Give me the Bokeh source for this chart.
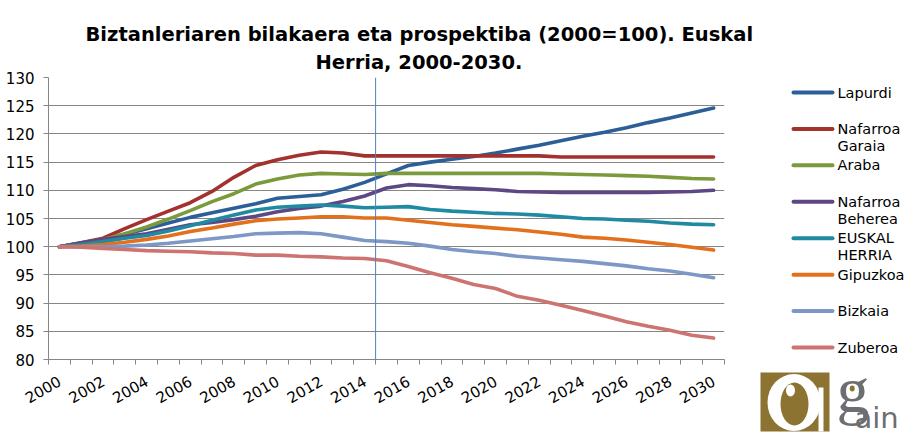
from bokeh.plotting import figure
from bokeh.models import Range1d, FixedTicker, Span, Title
from bokeh.layouts import row
from bokeh.embed import file_html
from bokeh.resources import INLINE
from bokeh.core.properties import value

# ---------------- data ----------------
years = list(range(2000, 2031))
tick_years = list(range(2000, 2031, 2))
y_ticks = [80, 85, 90, 95, 100, 105, 110, 115, 120, 125, 130]
projection_start = 2014.5

lapurdi = [100, 100.6, 101.2, 102.2, 103.2, 104.2, 105.2, 106.0, 106.8, 107.6, 108.6,
           108.9, 109.2, 110.2, 111.4, 112.9, 114.4, 115.0, 115.5, 116.0, 116.6,
           117.3, 118.0, 118.8, 119.6, 120.3, 121.1, 122.0, 122.8, 123.7, 124.6]
nafarroa_garaia = [100, 100.7, 101.5, 103.2, 104.8, 106.3, 107.8, 109.8, 112.3, 114.4, 115.4,
                   116.2, 116.8, 116.6, 116.1, 116.1, 116.1, 116.1, 116.1, 116.1, 116.1,
                   116.1, 116.1, 115.9, 115.9, 115.9, 115.9, 115.9, 115.9, 115.9, 115.9]
araba = [100, 100.6, 101.3, 102.3, 103.5, 104.9, 106.4, 108.0, 109.4, 111.1, 112.0,
         112.7, 113.0, 112.9, 112.8, 113.0, 113.0, 113.0, 113.0, 113.0, 113.0,
         113.0, 113.0, 112.9, 112.8, 112.7, 112.6, 112.5, 112.3, 112.1, 112.0]
nafarroa_beherea = [100, 100.7, 101.3, 101.8, 102.3, 103.1, 103.9, 104.3, 104.8, 105.4, 106.2,
                    106.8, 107.2, 108.0, 109.0, 110.4, 111.0, 110.8, 110.5, 110.3, 110.1,
                    109.8, 109.7, 109.6, 109.6, 109.6, 109.6, 109.6, 109.7, 109.8, 110.0]
euskal_herria = [100, 100.4, 100.9, 101.5, 102.0, 102.8, 103.7, 104.7, 105.6, 106.5, 107.0,
                 107.2, 107.4, 107.2, 106.9, 107.0, 107.1, 106.6, 106.3, 106.1, 105.9,
                 105.8, 105.6, 105.3, 105.0, 104.9, 104.7, 104.5, 104.2, 104.0, 103.9]
gipuzkoa = [100, 100.1, 100.4, 100.8, 101.3, 101.9, 102.7, 103.3, 104.0, 104.6, 104.9,
            105.1, 105.3, 105.3, 105.1, 105.1, 104.7, 104.3, 103.9, 103.6, 103.3,
            103.0, 102.6, 102.2, 101.7, 101.5, 101.2, 100.8, 100.4, 99.9, 99.4]
bizkaia = [100, 100.0, 100.0, 100.1, 100.3, 100.6, 101.0, 101.4, 101.8, 102.3, 102.4,
           102.5, 102.3, 101.7, 101.1, 100.9, 100.6, 100.1, 99.5, 99.1, 98.8,
           98.3, 98.0, 97.7, 97.4, 97.0, 96.6, 96.1, 95.7, 95.1, 94.5]
zuberoa = [100, 99.9, 99.7, 99.5, 99.3, 99.2, 99.1, 98.9, 98.8, 98.5, 98.5,
           98.3, 98.2, 98.0, 97.9, 97.5, 96.5, 95.4, 94.4, 93.3, 92.6,
           91.2, 90.5, 89.6, 88.7, 87.7, 86.7, 85.9, 85.2, 84.3, 83.8]

series_names = ["Lapurdi", "Nafarroa\nGaraia", "Araba", "Nafarroa\nBeherea",
                "EUSKAL\nHERRIA", "Gipuzkoa", "Bizkaia", "Zuberoa"]
series_values = [lapurdi, nafarroa_garaia, araba, nafarroa_beherea,
                 euskal_herria, gipuzkoa, bizkaia, zuberoa]
series_colors = ["#2C5E97", "#A3312E", "#7A9A3C", "#5D4784",
                 "#1F8AA2", "#E2701C", "#7D98C6", "#CD7472"]

title_lines = ["Biztanleriaren bilakaera eta prospektiba (2000=100). Euskal",
               "Herria, 2000-2030."]

FONT = "DejaVu Sans"
GRID = "#868686"

# ---------------- main chart ----------------
p = figure(width=753, height=439, x_range=Range1d(1999.5, 2030.5), y_range=Range1d(80, 130),
           output_backend="svg", toolbar_location=None, frame_align=False,
           min_border_left=48, min_border_right=29, min_border_top=77, min_border_bottom=80)
p.outline_line_color = None
p.background_fill_color = "white"
p.border_fill_color = "white"
p.title.text_font_size = "0px"
p.title.standoff = 0

# title: two lines, each placed so it is centred where the reference centres it
p.add_layout(Title(text=title_lines[1], align="left", offset=267, standoff=7,
                   text_font=FONT, text_font_size="19.5px", text_font_style="bold",
                   text_color="black"), "above")
p.add_layout(Title(text=title_lines[0], align="left", offset=37, standoff=0,
                   text_font=FONT, text_font_size="19.5px", text_font_style="bold",
                   text_color="black"), "above")

p.xgrid.grid_line_color = None
p.ygrid.ticker = FixedTicker(ticks=y_ticks)
p.ygrid.grid_line_color = GRID
p.ygrid.grid_line_width = 1

p.yaxis.ticker = FixedTicker(ticks=y_ticks)
p.yaxis.axis_line_color = GRID
p.yaxis.major_tick_line_color = GRID
p.yaxis.major_tick_out = 5
p.yaxis.major_tick_in = 0
p.yaxis.minor_tick_line_color = None
p.yaxis.major_label_standoff = 9
p.yaxis.major_label_text_font = FONT
p.yaxis.major_label_text_font_size = "15px"
p.yaxis.major_label_text_color = "black"

p.xaxis.ticker = FixedTicker(ticks=tick_years, minor_ticks=[y - 0.5 for y in years] + [years[-1] + 0.5])
p.xaxis.axis_line_color = GRID
p.xaxis.major_tick_line_color = None
p.xaxis.major_tick_out = 0
p.xaxis.major_tick_in = 0
p.xaxis.minor_tick_line_color = GRID
p.xaxis.minor_tick_out = 5
p.xaxis.minor_tick_in = 0
p.xaxis.major_label_orientation = 0.52
p.xaxis.major_label_standoff = 15
p.xaxis.major_label_text_font = FONT
p.xaxis.major_label_text_font_size = "15px"
p.xaxis.major_label_text_color = "black"

for vals, col in zip(series_values, series_colors):
    p.line(years, vals, line_color=col, line_width=3.6, line_join="round", line_cap="round")

p.add_layout(Span(location=projection_start, dimension="height", line_color="#4F81BD", line_width=1))

# ---------------- legend + logo panel ----------------
lg = figure(width=155, height=439, x_range=Range1d(0, 155), y_range=Range1d(439, 0),
            output_backend="svg", toolbar_location=None, min_border=0, frame_align=False)
lg.axis.visible = False
lg.grid.grid_line_color = None
lg.outline_line_color = None

item_top = 92
item_step = 36.43
line2_gap = 17
ys = [item_top + item_step * i for i in range(len(series_names))]
first_lines = [n.split("\n")[0] for n in series_names]
second_lines = [n.split("\n")[1] if "\n" in n else "" for n in series_names]

lg.segment(x0=[40] * len(ys), x1=[79] * len(ys), y0=ys, y1=ys, line_color=series_colors,
           line_width=4, line_cap="round")
lg.text(x=[84] * len(ys), y=ys, text=first_lines, text_font=value(FONT), text_font_size="14.5px",
        text_baseline="middle", text_align="left", text_color="black")
lg.text(x=[84] * len(ys), y=[y + line2_gap for y in ys], text=second_lines, text_font=value(FONT),
        text_font_size="14.5px", text_baseline="middle", text_align="left", text_color="black")

# logo (decoration)
BROWN = "#8C7332"
LOGO_GREY = "#6D6E71"
lg.rect(x=[41.5], y=[401.5], width=[69], height=[59], fill_color=BROWN, line_color=None)
lg.rect(x=[67.5], y=[409], width=[5], height=[44], fill_color="white", line_color=None)
lg.ellipse(x=[40.5], y=[402], width=[53], height=[57], fill_color="white", line_color=None)
lg.ellipse(x=[41], y=[403.5], width=[28], height=[43], fill_color=BROWN, line_color=None)
lg.ellipse(x=[37], y=[390], width=[9], height=[12], fill_color="white", line_color=None)
lg.text(x=[83], y=[389], text=["g"], text_font=value("Liberation Serif"), text_font_size="66px",
        text_baseline="middle", text_color=LOGO_GREY)
lg.ellipse(x=[98.7], y=[388], width=[5], height=[6], fill_color=BROWN, line_color=None)
lg.text(x=[101], y=[417], text=["ain"], text_font=value(FONT), text_font_size="29px",
        text_baseline="middle", text_color=LOGO_GREY)

layout = row(p, lg)
open("out.html", "w").write(file_html(layout, INLINE))
